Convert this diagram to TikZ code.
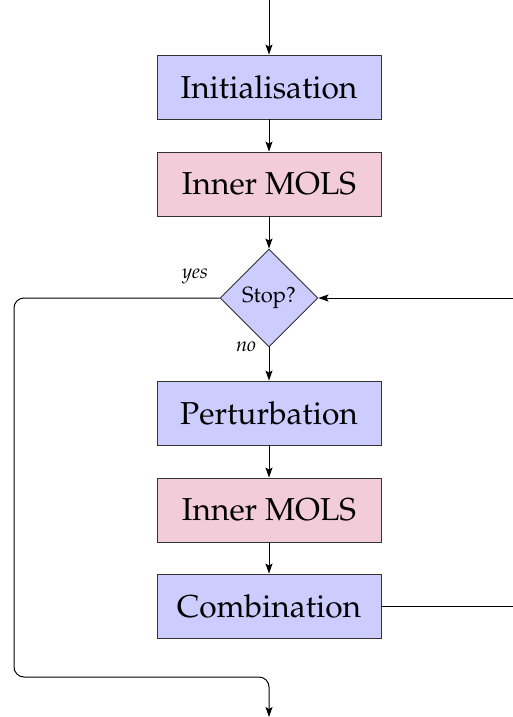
\documentclass[tikz,border=0pt]{standalone}
\usepackage[T1]{fontenc}
\usepackage{mathpazo}
\usetikzlibrary{shapes.geometric,arrows.meta}
\begin{document}
\begin{tikzpicture}[x=1pt,y=-1pt,
  box/.style={draw=black!80,line width=0.9pt,minimum width=224pt,minimum height=64pt,inner sep=0pt,font=\fontsize{31.7}{38}\selectfont},
  bluebox/.style={box,fill=blue!20},
  pinkbox/.style={box,fill=purple!20},
  decision/.style={diamond,aspect=1,draw=black!80,line width=0.9pt,fill=blue!20,minimum width=98pt,minimum height=98pt,inner sep=0pt,font=\fontsize{22}{26}\selectfont},
  conn/.style={line width=1pt,-{Stealth[length=10pt,width=7pt,inset=2pt]}},
  lbl/.style={font=\fontsize{20}{24}\selectfont\itshape}]
\useasboundingbox (0,0) rectangle (513,717);
\node[bluebox] (init) at (269,87) {Initialisation};
\node[pinkbox] (inner1) at (269,184) {Inner MOLS};
\node[decision] (stop) at (269,298) {Stop?};
\node[bluebox] (pert) at (269,413) {Perturbation};
\node[pinkbox] (inner2) at (269,510) {Inner MOLS};
\node[bluebox] (comb) at (269,606) {Combination};
\coordinate (top) at (269,0);
\coordinate (bottom) at (269,717);
\coordinate (rtop) at (514,298);
\coordinate (rbot) at (514,606);
\draw[conn] (top) -- (init);
\draw[conn] (init) -- (inner1);
\draw[conn] (inner1) -- (stop);
\draw[conn] (stop) -- (pert);
\draw[conn] (pert) -- (inner2);
\draw[conn] (inner2) -- (comb);
\draw[line width=1pt] (comb) -- (rbot);
\draw[conn] (rtop) -- (stop);
\draw[conn,rounded corners=10pt] (stop.west) -- (14,298) -- (14,677) -- (269,677) -- (bottom);
\node[lbl] (yes) at (195,276) {yes};
\node[lbl] (no) at (246,347) {no};
\end{tikzpicture}
\end{document}
